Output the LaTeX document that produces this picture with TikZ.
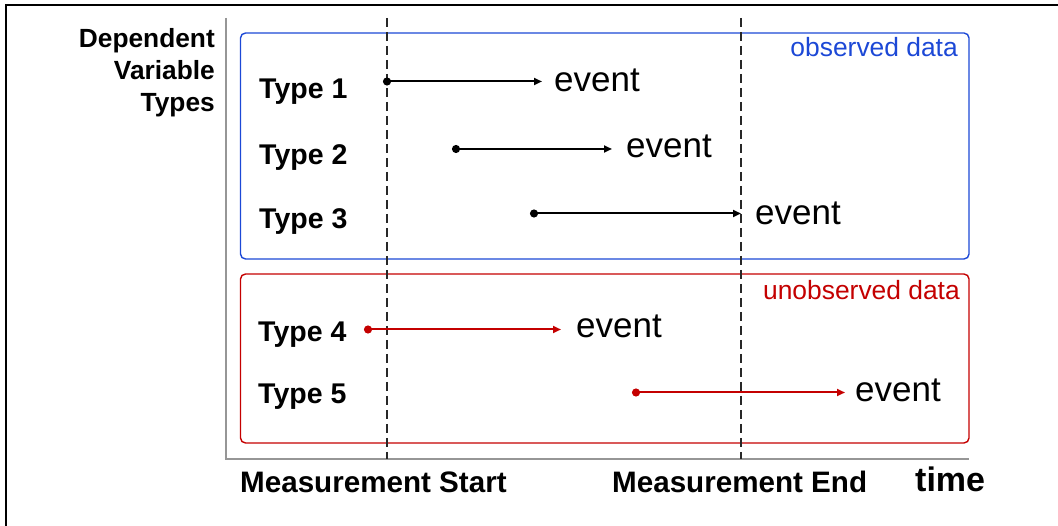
\documentclass[tikz,border=0pt]{standalone}
\usepackage{fontspec}
\setmainfont{Liberation Sans}
\usetikzlibrary{arrows.meta}
\definecolor{obsblue}{RGB}{28,72,214}
\definecolor{unobsred}{RGB}{196,0,0}
\definecolor{axisgray}{RGB}{150,150,150}
\definecolor{markgray}{RGB}{40,40,40}
\tikzset{
  frameline/.style={line width=2pt, black},
  axisline/.style={line width=1.6pt, axisgray},
  markline/.style={line width=1.3pt, markgray, dash pattern=on 9pt off 5pt},
  groupbox/.style={line width=1.4pt, rounded corners=5pt},
  typelabel/.style={anchor=base west, inner sep=0pt, font=\bfseries\fontsize{28.5}{30}\selectfont},
  eventlabel/.style={anchor=base west, inner sep=0pt, font=\fontsize{35}{37}\selectfont},
  grouplabel/.style={anchor=base east, inner sep=0pt, font=\fontsize{26.4}{28}\selectfont},
  axislabel/.style={anchor=base west, inner sep=0pt, font=\bfseries\fontsize{29.6}{31}\selectfont},
  span/.style={line width=2pt, {Circle[length=8pt]}-{Triangle[length=8pt,width=7pt]}},
}
\begin{document}
\begin{tikzpicture}[x=1pt, y=-1pt]
\useasboundingbox (0,0) rectangle (1058,526);

% outer frame (top and left edges)
\draw[frameline] (6,526) -- (6,5) -- (1058,5);

% axes
\coordinate (ytop) at (226,18);
\coordinate (origin) at (226,459);
\coordinate (xend) at (969,459);
\draw[axisline] (ytop) -- (origin) -- (xend);

% groups
\draw[groupbox, obsblue] (240.5,33) rectangle (969,259);
\draw[groupbox, unobsred] (240.5,274) rectangle (969,443);
\node[grouplabel, text=obsblue] (obs) at (958,57) {observed data};
\node[grouplabel, text=unobsred] (unobs) at (960,300) {unobserved data};

% measurement window
\coordinate (ms top) at (387,18);
\coordinate (ms bot) at (387,459);
\coordinate (me top) at (741,18);
\coordinate (me bot) at (741,459);
\draw[markline] (ms top) -- (ms bot);
\draw[markline] (me top) -- (me bot);

% axis titles
\node[anchor=north east, inner sep=0pt, align=right,
      font=\bfseries\fontsize{26.3}{32}\selectfont] (dvt) at (215,28)
      {Dependent\\Variable\\Types};
\node[axislabel] (mstart) at (240,493) {Measurement Start};
\node[axislabel] (mend) at (612,493) {Measurement End};
\node[anchor=base west, inner sep=0pt, font=\bfseries\fontsize{34}{36}\selectfont] (time) at (915,492) {time};

% type labels
\node[typelabel] (type1) at (259,99) {Type 1};
\node[typelabel] (type2) at (259,165) {Type 2};
\node[typelabel] (type3) at (259,229) {Type 3};
\node[typelabel] (type4) at (258,342) {Type 4};
\node[typelabel] (type5) at (258,404) {Type 5};

% event labels
\node[eventlabel] (ev1) at (554,92) {event};
\node[eventlabel] (ev2) at (626,158) {event};
\node[eventlabel] (ev3) at (755,225) {event};
\node[eventlabel] (ev4) at (576,338) {event};
\node[eventlabel] (ev5) at (855,402) {event};

% spans from entry to event (the dot tip sits 4pt inside the start)
\coordinate (s1) at (383,81.5);  \coordinate (t1) at (542,81.5);
\coordinate (s2) at (452,149);   \coordinate (t2) at (612,149);
\coordinate (s3) at (530,213.5); \coordinate (t3) at (741,213.5);
\coordinate (s4) at (364,329.5); \coordinate (t4) at (561,329.5);
\coordinate (s5) at (632,392.5); \coordinate (t5) at (845,392.5);
\draw[span, black] (s1) -- (t1);
\draw[span, black] (s2) -- (t2);
\draw[span, black] (s3) -- (t3);
\draw[span, unobsred] (s4) -- (t4);
\draw[span, unobsred] (s5) -- (t5);
\end{tikzpicture}
\end{document}
